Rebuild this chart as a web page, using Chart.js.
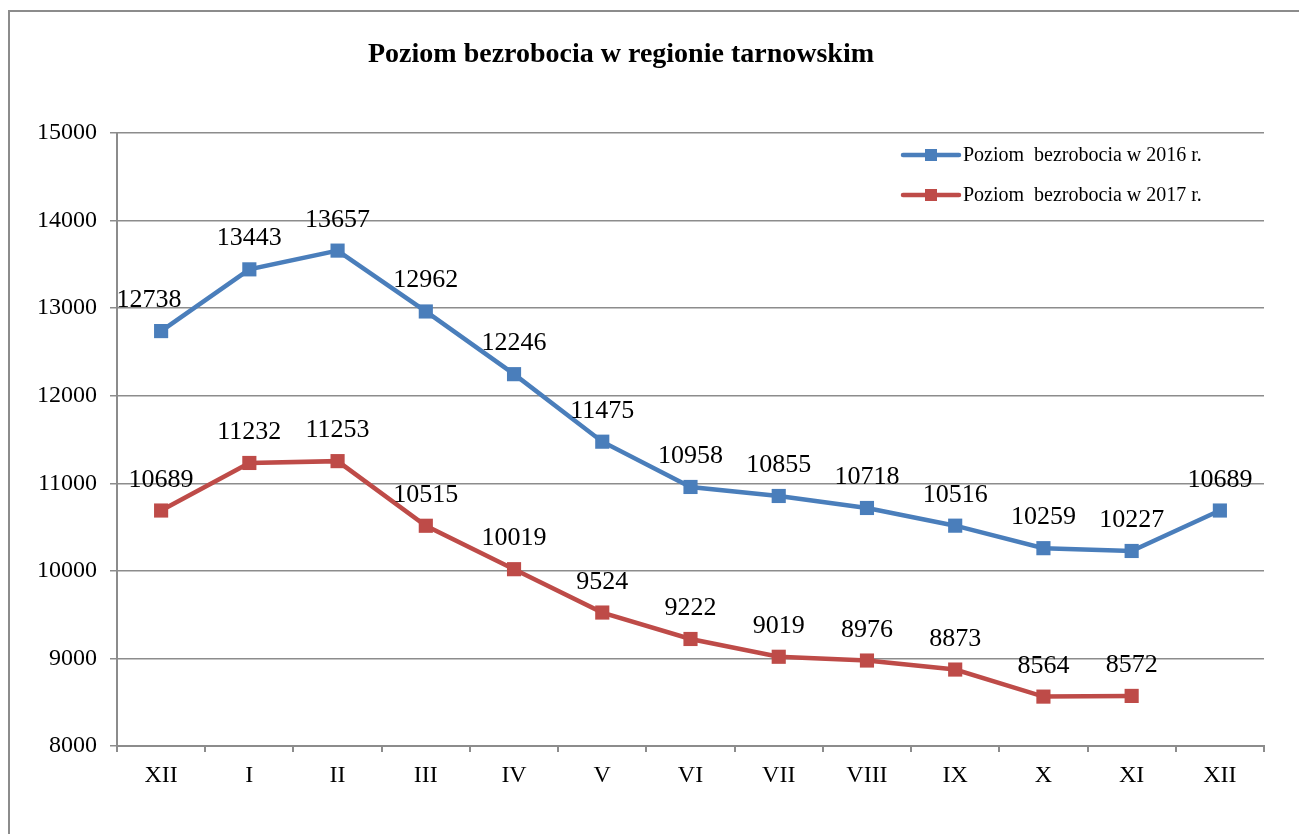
<!DOCTYPE html>
<html>
  <head>
    <title>Poziom bezrobocia</title>
    <script src="https://cdn.jsdelivr.net/npm/chart.js"></script>
    <style>
      html, body { margin: 0; padding: 0; background: #fff; }
      #wrap { width: 1299px; height: 834px; position: relative; }
    </style>
  </head>
  <body>
    <div id="wrap">
      <canvas id="chart" width="1299" height="834"></canvas>
    </div>
    <script>
      // dane
      var months = ['XII', 'I', 'II', 'III', 'IV', 'V', 'VI', 'VII', 'VIII', 'IX', 'X', 'XI', 'XII'];
      var values2016 = [12738, 13443, 13657, 12962, 12246, 11475, 10958, 10855, 10718, 10516, 10259, 10227, 10689];
      var values2017 = [10689, 11232, 11253, 10515, 10019, 9524, 9222, 9019, 8976, 8873, 8564, 8572, null];
      var seriesLabels = ['Poziom  bezrobocia w 2016 r.', 'Poziom  bezrobocia w 2017 r.'];
      var yTicks = [8000, 9000, 10000, 11000, 12000, 13000, 14000, 15000];
      var chartTitle = 'Poziom bezrobocia w regionie tarnowskim';

      var SERIF = '"Liberation Serif", "Times New Roman", serif';
      var BLUE = '#4a7ebb';
      var RED = '#be4b48';

      // ramka, tytul, etykiety danych i legenda
      var decorPlugin = {
        id: 'decor',
        beforeDraw: function(chart) {
          var ctx = chart.ctx;
          ctx.save();
          ctx.strokeStyle = '#8c8c8c';
          ctx.lineWidth = 2;
          ctx.beginPath();
          ctx.moveTo(9, 834);
          ctx.lineTo(9, 11);
          ctx.lineTo(1299, 11);
          ctx.stroke();
          ctx.fillStyle = '#000';
          ctx.font = 'bold 28px ' + SERIF;
          ctx.textAlign = 'center';
          ctx.textBaseline = 'alphabetic';
          ctx.fillText(chartTitle, 621, 62);
          ctx.restore();
        },
        afterDatasetsDraw: function(chart) {
          var ctx = chart.ctx;
          ctx.save();
          ctx.fillStyle = '#000';
          ctx.font = '26px ' + SERIF;
          ctx.textAlign = 'center';
          ctx.textBaseline = 'alphabetic';
          chart.data.datasets.forEach(function(ds, i) {
            var meta = chart.getDatasetMeta(i);
            meta.data.forEach(function(pt, j) {
              var v = ds.data[j];
              if (v === null || v === undefined) return;
              var x = pt.x;
              if (i === 0 && j === 0) x -= 12;
              ctx.fillText(String(v), x, pt.y - 24);
            });
          });
          // legenda
          var lx = 903, ly = [155, 195];
          ctx.font = '20px ' + SERIF;
          ctx.textAlign = 'left';
          ctx.textBaseline = 'middle';
          chart.data.datasets.forEach(function(ds, i) {
            ctx.strokeStyle = ds.borderColor;
            ctx.lineWidth = 4.5;
            ctx.lineCap = 'round';
            ctx.beginPath();
            ctx.moveTo(lx, ly[i]);
            ctx.lineTo(lx + 56, ly[i]);
            ctx.stroke();
            ctx.fillStyle = ds.borderColor;
            ctx.fillRect(lx + 22, ly[i] - 6, 12, 12);
            ctx.fillStyle = '#000';
            ctx.fillText(ds.label, lx + 60, ly[i] + 1);
          });
          ctx.restore();
        }
      };

      var ctx = document.getElementById('chart').getContext('2d');
      new Chart(ctx, {
        type: 'line',
        data: {
          labels: months,
          datasets: [{
            label: seriesLabels[0],
            data: values2016,
            borderColor: BLUE,
            backgroundColor: BLUE,
            borderWidth: 4.5,
            pointStyle: 'rect',
            pointRadius: 10,
            pointBorderWidth: 0,
            tension: 0
          }, {
            label: seriesLabels[1],
            data: values2017,
            borderColor: RED,
            backgroundColor: RED,
            borderWidth: 4.5,
            pointStyle: 'rect',
            pointRadius: 10,
            pointBorderWidth: 0,
            tension: 0
          }]
        },
        options: {
          responsive: false,
          animation: false,
          events: [],
          layout: {
            padding: { left: 0, right: 35, top: 133, bottom: 0 }
          },
          plugins: {
            legend: { display: false },
            title: { display: false },
            tooltip: { enabled: false }
          },
          scales: {
            x: {
              offset: true,
              grid: {
                offset: true,
                drawOnChartArea: false,
                drawTicks: true,
                tickLength: 6,
                color: '#8c8c8c',
                lineWidth: 2
              },
              border: { display: true, color: '#8c8c8c', width: 2 },
              ticks: {
                color: '#000',
                font: { family: SERIF, size: 24 },
                padding: 9,
                maxRotation: 0,
                autoSkip: false
              },
              afterFit: function(scale) { scale.height = 88; }
            },
            y: {
              min: 8000,
              max: 15000,
              afterBuildTicks: function(scale) {
                scale.ticks = yTicks.map(function(v) { return { value: v }; });
              },
              grid: {
                color: '#8c8c8c',
                lineWidth: 1.5,
                tickLength: 7
              },
              border: { display: true, color: '#8c8c8c', width: 2 },
              ticks: {
                color: '#000',
                font: { family: SERIF, size: 24 },
                padding: 13,
                callback: function(v) { return String(v); }
              },
              afterFit: function(scale) { scale.width = 117; }
            }
          }
        },
        plugins: [decorPlugin]
      });
    </script>
  </body>
</html>
